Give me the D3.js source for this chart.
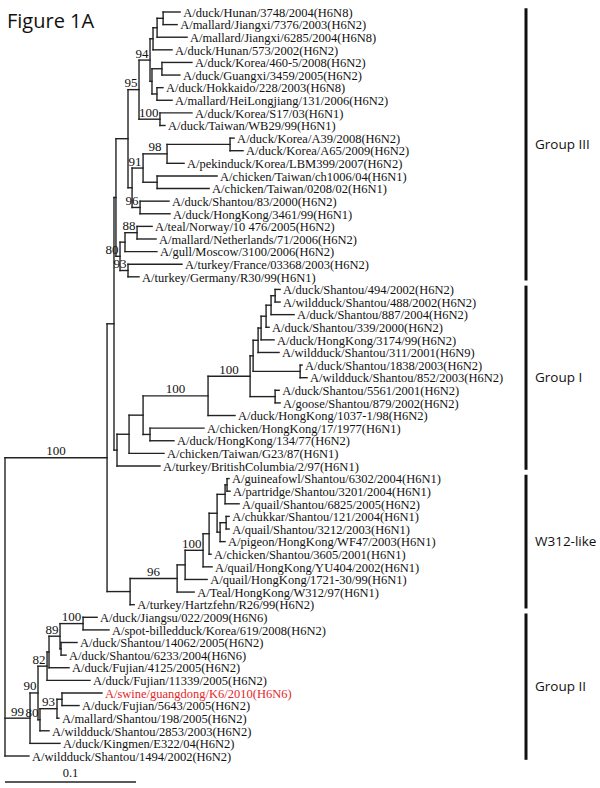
<!DOCTYPE html>
<html><head><meta charset="utf-8">
<script src="https://cdn.jsdelivr.net/npm/d3@7"></script>
<style>body{margin:0;background:#fff}</style>
</head><body><svg id="c" width="600" height="788"></svg>
<script>
const title = "Figure 1A";
const taxa = [
 "A/duck/Hunan/3748/2004(H6N8)","A/mallard/Jiangxi/7376/2003(H6N2)","A/mallard/Jiangxi/6285/2004(H6N8)",
 "A/duck/Hunan/573/2002(H6N2)","A/duck/Korea/460-5/2008(H6N2)","A/duck/Guangxi/3459/2005(H6N2)",
 "A/duck/Hokkaido/228/2003(H6N8)","A/mallard/HeiLongjiang/131/2006(H6N2)","A/duck/Korea/S17/03(H6N1)",
 "A/duck/Taiwan/WB29/99(H6N1)","A/duck/Korea/A39/2008(H6N2)","A/duck/Korea/A65/2009(H6N2)",
 "A/pekinduck/Korea/LBM399/2007(H6N2)","A/chicken/Taiwan/ch1006/04(H6N1)","A/chicken/Taiwan/0208/02(H6N1)",
 "A/duck/Shantou/83/2000(H6N2)","A/duck/HongKong/3461/99(H6N1)","A/teal/Norway/10 476/2005(H6N2)",
 "A/mallard/Netherlands/71/2006(H6N2)","A/gull/Moscow/3100/2006(H6N2)","A/turkey/France/03368/2003(H6N2)",
 "A/turkey/Germany/R30/99(H6N1)","A/duck/Shantou/494/2002(H6N2)","A/wildduck/Shantou/488/2002(H6N2)",
 "A/duck/Shantou/887/2004(H6N2)","A/duck/Shantou/339/2000(H6N2)","A/duck/HongKong/3174/99(H6N2)",
 "A/wildduck/Shantou/311/2001(H6N9)","A/duck/Shantou/1838/2003(H6N2)","A/wildduck/Shantou/852/2003(H6N2)",
 "A/duck/Shantou/5561/2001(H6N2)","A/goose/Shantou/879/2002(H6N2)","A/duck/HongKong/1037-1/98(H6N2)",
 "A/chicken/HongKong/17/1977(H6N1)","A/duck/HongKong/134/77(H6N2)","A/chicken/Taiwan/G23/87(H6N1)",
 "A/turkey/BritishColumbia/2/97(H6N1)","A/guineafowl/Shantou/6302/2004(H6N1)","A/partridge/Shantou/3201/2004(H6N1)",
 "A/quail/Shantou/6825/2005(H6N2)","A/chukkar/Shantou/121/2004(H6N1)","A/quail/Shantou/3212/2003(H6N1)",
 "A/pigeon/HongKong/WF47/2003(H6N1)","A/chicken/Shantou/3605/2001(H6N1)","A/quail/HongKong/YU404/2002(H6N1)",
 "A/quail/HongKong/1721-30/99(H6N1)","A/Teal/HongKong/W312/97(H6N1)","A/turkey/Hartzfehn/R26/99(H6N2)",
 "A/duck/Jiangsu/022/2009(H6N6)","A/spot-billedduck/Korea/619/2008(H6N2)","A/duck/Shantou/14062/2005(H6N2)",
 "A/duck/Shantou/6233/2004(H6N6)","A/duck/Fujian/4125/2005(H6N2)","A/duck/Fujian/11339/2005(H6N2)",
 "A/swine/guangdong/K6/2010(H6N6)","A/duck/Fujian/5643/2005(H6N2)","A/mallard/Shantou/198/2005(H6N2)",
 "A/wildduck/Shantou/2853/2003(H6N2)","A/duck/Kingmen/E322/04(H6N2)","A/wildduck/Shantou/1494/2002(H6N2)"
];
// topology with branch lengths (substitutions/site) and bootstrap values; tN = taxa[N]
const treeNewick = `
(
 (
  (
   (
    (
     (
      (
       (((t0:0.0130,t1:0.0107):0.0046,t2:0.0229):0.0031,t3:0.0145):0.0023,
       ((t4:0.0229,t5:0.0137):0.0076,(t6:0.0046,t7:0.0115):0.0038):0.0015
      )94:0.0084,
      (t8:0.0244,t9:0.0038)100:0.0160
     )95:0.0084,
     (
      (((t10:0.0031,t11:0.0099):0.0481,t12:0.0130)98:0.0183,(t13:0.0458,t14:0.0397):0.0107)91:0.0084,
      (t15:0.0221,t16:0.0229)96:0.0061
     ):0.0031
    ):0.0092,
    (
     ((t17:0.0115,t18:0.0145)88:0.0092,t19:0.0244):0.0038,
     (t20:0.0412,t21:0.0084)93:0.0061
    )80:0.0031
   ):0.0015,
   (
    (
     (
      (
       (
        (
         (
          (
           (
            ((t22:0.0038,t23:0.0038):0.0031,t24:0.0176):0.0038,
            t25:0.0023
           ):0.0038,
           t26:0.0099
          ):0.0023,
          t27:0.0160
         ):0.0038,
         (t28:0.0015,t29:0.0053):0.0359
        ):0.0023,
        (t30:0.0031,t31:0.0038):0.0191
       )100:0.0321,
       t32:0.0206
      )100:0.0496,
      (t33:0.0412,t34:0.0183):0.0053
     ):0.0107,
     t35:0.0267
    ):0.0092,
    t36:0.0328
   ):0.0023
  ):0.0053,
  (
   (
    (
     (
      (
       (
        ((t37:0.0015,t38:0.0023):0.0015,t39:0.0107):0.0061,
        ((t40:0.0023,t41:0.0023):0.0046,t42:0.0038):0.0023
       ):0.0061,
       t43:0.0015
      ):0.0046,
      t44:0.0069
     )100:0.0137,
     t45:0.0168
    ):0.0061,
    t46:0.0130
   )96:0.0359,
   t47:0.0031
  ):0.0176
 )100:0.0779,
 (
  (
   (
    (
     ((t48:0.0107,t49:0.0198)100:0.0176,(t50:0.0122,t51:0.0038):0.0008)89:0.0084,
     t52:0.0153
    ):0.0015,
    t53:0.0328
   )82:0.0069,
   (
    ((t54:0.0305,t55:0.0130):0.0038,t56:0.0015)93:0.0130,
    t57:0.0069
   )80:0.0015
  )90:0.0061,
  t58:0.0229
 )99:0.0191,
 t59:0.0183
);`;
const groupNames = ["Group III","Group I","W312-like","Group II"];
const groupFirst = [0, 22, 37, 48];
const groupLast  = [21, 36, 47, 59];
const highlightTaxa = ["A/swine/guangdong/K6/2010(H6N6)"];
const scaleBarValue = 0.1;
const scaleBarLabel = "0.1";

function parseNewick(s){
  let i=0;
  function node(){
    const n={};
    if(s[i]==='('){
      n.children=[]; i++;
      n.children.push(node());
      while(s[i]===','){i++; n.children.push(node());}
      i++;
    }
    let name='';
    while(i<s.length && !':,);'.includes(s[i])) name+=s[i++];
    n.name=name;
    n.length=0;
    if(s[i]===':'){i++; let l=''; while(i<s.length && !',);'.includes(s[i])) l+=s[i++]; n.length=+l;}
    return n;
  }
  return node();
}

const svg = d3.select("#c");
const x = d3.scaleLinear().domain([0, 0.1]).range([5, 136]);
const y = d3.scaleLinear().domain([0, taxa.length-1]).range([12, 756]);
const step = y(1)-y(0);

const root = d3.hierarchy(parseNewick(treeNewick.replace(/\s+/g,'')));
root.eachBefore(d => { d.dist = d.parent ? d.parent.dist + d.data.length : 0; d.px = x(d.dist); });
root.leaves().forEach(d => { d.idx = +d.data.name.slice(1); d.py = y(d.idx); });
root.eachAfter(d => { if (d.children) d.py = (d.children[0].py + d.children[d.children.length-1].py)/2; });

const lineCol = "#222";
const g = svg.append("g");
g.selectAll("path.h").data(root.descendants().filter(d=>d.parent)).join("path")
  .attr("d", d => `M${d.parent.px},${d.py}H${d.px}`)
  .attr("stroke", lineCol).attr("stroke-width", 1.4).attr("fill","none").attr("stroke-linecap","square");
g.selectAll("path.v").data(root.descendants().filter(d=>d.children)).join("path")
  .attr("d", d => `M${d.px},${d.children[0].py}V${d.children[d.children.length-1].py}`)
  .attr("stroke", lineCol).attr("stroke-width", 1.4).attr("fill","none").attr("stroke-linecap","square");

// leaf labels
svg.append("g").selectAll("text").data(root.leaves()).join("text")
  .attr("x", d => d.px + 3).attr("y", d => d.py).attr("dy","0.38em")
  .attr("font-family","'Liberation Serif','Times New Roman',serif").attr("font-size",12.5)
  .attr("fill", d => highlightTaxa.includes(taxa[d.idx]) ? "#e3262b" : "#111")
  .text(d => taxa[d.idx]);

// bootstrap labels
const sup = svg.append("g").selectAll("text")
  .data(root.descendants().filter(d => d.children && d.data.name !== "" && d.parent)).join("text")
  .attr("font-family","'Liberation Serif','Times New Roman',serif").attr("font-size",13)
  .attr("fill","#111").attr("text-anchor","middle")
  .attr("y", d => d.py - 2.5)
  .text(d => d.data.name);
sup.each(function(d){
  const w = this.getComputedTextLength();
  const cx = Math.min((d.parent.px + d.px)/2, d.px - w/2 - 1.5);
  d3.select(this).attr("x", cx);
});

// group bars
const gb = svg.append("g");
groupNames.forEach((name,i)=>{
  const y0 = y(groupFirst[i]) - step/2 + 2.5, y1 = y(groupLast[i]) + step/2 - 2.5;
  gb.append("line").attr("x1",526).attr("x2",526).attr("y1",y0).attr("y2",y1)
    .attr("stroke","#111").attr("stroke-width",3);
  gb.append("text").attr("x",535).attr("y",(y0+y1)/2).attr("dy","0.35em")
    .attr("font-family","'Open Sans','Noto Sans',sans-serif").attr("font-size",13.5).attr("fill","#111")
    .text(name);
});

// title
svg.append("text").attr("x",7).attr("y",28).attr("font-family","'Open Sans','Noto Sans',sans-serif")
  .attr("font-size",20).attr("fill","#111").text(title);

// scale bar
svg.append("line").attr("x1",x(0)).attr("x2",x(scaleBarValue)).attr("y1",782).attr("y2",782)
  .attr("stroke",lineCol).attr("stroke-width",1.4);
svg.append("text").attr("x",(x(0)+x(scaleBarValue))/2).attr("y",777).attr("text-anchor","middle")
  .attr("font-family","'Liberation Serif','Times New Roman',serif").attr("font-size",12.5).attr("fill","#111")
  .text(scaleBarLabel);
</script></body></html>
